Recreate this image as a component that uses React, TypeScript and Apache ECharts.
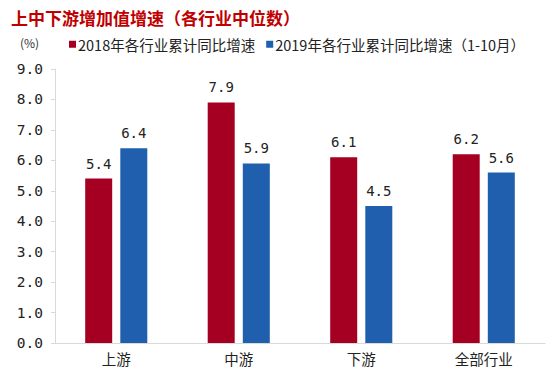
import React, { useEffect, useRef } from "react";
import * as echarts from "echarts";

const categories = ["上游", "中游", "下游", "全部行业"];
const series2018 = [5.4, 7.9, 6.1, 6.2];
const series2019 = [6.4, 5.9, 4.5, 5.6];
const seriesNames = ["2018年各行业累计同比增速", "2019年各行业累计同比增速（1-10月）"];
const titleText = "上中下游增加值增速（各行业中位数）";
const unitText = "(%)";

export default function App() {
  const ref = useRef<HTMLDivElement>(null);
  useEffect(() => {
    if (!ref.current) return;
    const chart = echarts.init(ref.current, null, { renderer: "svg" });
    const font = "'Noto Sans CJK SC', sans-serif";
    const numFont = "'DejaVu Sans Mono', monospace";
    chart.setOption({
      animation: false,
      backgroundColor: "#ffffff",
      title: {
        text: titleText,
        left: 6,
        top: 4,
        textStyle: { color: "#c00000", fontSize: 17, fontWeight: "bold", fontFamily: font },
      },
      graphic: [
        {
          type: "text",
          left: 20,
          top: 36,
          style: { text: unitText, fontSize: 12, fill: "#333", fontFamily: font },
        },
      ],
      legend: {
        left: 64,
        top: 32,
        itemWidth: 7,
        itemHeight: 7,
        itemGap: 11,
        icon: "rect",
        textStyle: { fontSize: 14.5, color: "#222", fontFamily: font, padding: [0, 0, 0, -3] },
        data: seriesNames,
      },
      grid: { left: 55, right: 5, top: 69, bottom: 31 },
      xAxis: {
        type: "category",
        data: categories,
        axisLine: { lineStyle: { color: "#d9d9d9" } },
        axisTick: { show: false },
        axisLabel: { color: "#222", fontSize: 14.5, margin: 8, fontFamily: font },
      },
      yAxis: {
        type: "value",
        min: 0,
        max: 9,
        interval: 1,
        axisLine: { show: true, lineStyle: { color: "#d9d9d9" } },
        axisTick: { show: true, length: 4, lineStyle: { color: "#d9d9d9" } },
        splitLine: { show: false },
        axisLabel: {
          color: "#222",
          fontSize: 14.5,
          margin: 12,
          fontFamily: numFont,
          formatter: (v: number) => v.toFixed(1),
        },
      },
      series: [
        {
          name: seriesNames[0],
          type: "bar",
          data: series2018,
          barWidth: 27,
          barGap: "30%",
          itemStyle: { color: "#a50021" },
          label: { show: true, position: "top", distance: 8, fontSize: 14, color: "#222", fontFamily: numFont, formatter: (p: any) => p.value.toFixed(1) },
        },
        {
          name: seriesNames[1],
          type: "bar",
          data: series2019,
          barWidth: 27,
          barGap: "30%",
          itemStyle: { color: "#1f5fae" },
          label: { show: true, position: "top", distance: 8, fontSize: 14, color: "#222", fontFamily: numFont, formatter: (p: any) => p.value.toFixed(1) },
        },
      ],
    });
    return () => chart.dispose();
  }, []);
  return <div ref={ref} style={{ width: 550, height: 374, position: "absolute", left: 0, top: 0 }} />;
}
